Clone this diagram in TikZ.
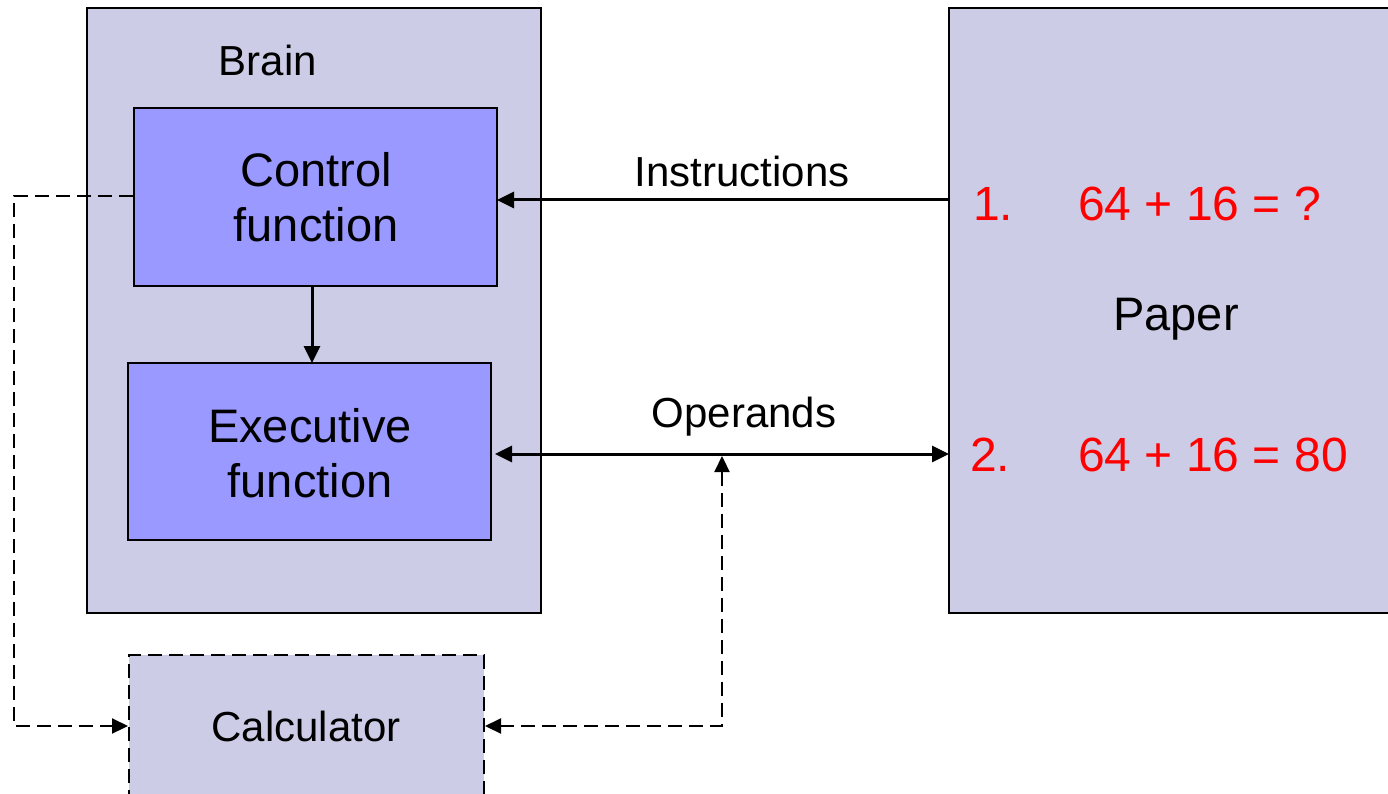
\documentclass[tikz,border=0pt]{standalone}
\usepackage{fontspec}
\setmainfont{Liberation Sans}
\usetikzlibrary{arrows.meta}
\definecolor{lav}{RGB}{204,204,230}
\definecolor{blu}{RGB}{153,153,255}
\definecolor{txtred}{RGB}{255,0,0}
\tikzset{
  big/.style={font=\fontsize{47}{55}\selectfont},
  red/.style={font=\fontsize{48}{55}\selectfont, anchor=base west, inner sep=0pt, text=txtred},
  lbl/.style={font=\fontsize{42}{50}\selectfont},
  panel/.style={draw=black, line width=2pt, fill=lav, rectangle, inner sep=0pt},
  func/.style={draw=black, line width=2pt, fill=blu, rectangle, inner sep=0pt, align=center, big},
  solidtip/.style={Triangle[length=17pt,width=16pt]},
  solidarr/.style={line width=3pt, -{Triangle[length=17pt,width=16pt]}},
  dasharr/.style={line width=2.2pt, dash pattern=on 14pt off 7pt, -{Triangle[length=16pt,width=15pt]}},
}
\begin{document}
\begin{tikzpicture}[x=1pt,y=-1pt]
\useasboundingbox (0,0) rectangle (1388,794);
% panels
\node[panel, minimum width=454pt, minimum height=605pt] (brain) at (314,310.5) {};
\node[panel, minimum width=460pt, minimum height=605pt] (paper) at (1179,310.5) {};
\node[panel, dash pattern=on 14pt off 7pt, minimum width=355pt, minimum height=142pt] (calc) at (306.5,726) {};
% function boxes
\node[func, minimum width=363pt, minimum height=178pt] (ctrl) at (315.5,197) {};
\node[func, minimum width=363pt, minimum height=177pt] (exec) at (309.5,451.5) {};
% texts
\node[lbl, anchor=base] (tbrain) at (268,76) {Brain};
\node[big, anchor=base] (tctrl1) at (316,187) {Control};
\node[big, anchor=base] (tctrl2) at (316,242) {function};
\node[big, anchor=base] (texec1) at (310,442) {Executive};
\node[big, anchor=base] (texec2) at (310,497) {function};
\node[lbl, anchor=base] (tinstr) at (742,187) {Instructions};
\node[lbl, anchor=base] (toper) at (744,427) {Operands};
\node[big, anchor=base] (tpaper) at (1176,330) {Paper};
\node[lbl, anchor=base] (tcalc) at (306,741) {Calculator};
\node[red] (n1) at (973,221) {1.};
\node[red] (e1) at (1078,221) {64 + 16 = ?};
\node[red] (n2) at (970,471) {2.};
\node[red] (e2) at (1078,471) {64 + 16 = 80};
% connectors
\coordinate (instrR) at (949,200);
\coordinate (instrL) at (497,200);
\draw[solidarr] (instrR) -- (instrL);
\coordinate (cxTop) at (312,287);
\coordinate (cxBot) at (312,363);
\draw[solidarr] (cxTop) -- (cxBot);
\coordinate (opL) at (495,454);
\coordinate (opR) at (949,454);
\draw[solidarr, {Triangle[length=17pt,width=16pt]}-{Triangle[length=17pt,width=16pt]}] (opL) -- (opR);
\coordinate (opJ) at (722,456);
\coordinate (leftX) at (14,196);
\draw[dasharr] (ctrl.west |- leftX) -- (leftX) |- (calc.west);
\draw[dasharr, {Triangle[length=16pt,width=15pt]}-{Triangle[length=16pt,width=15pt]}] (calc.east) -| (opJ);
\end{tikzpicture}
\end{document}
